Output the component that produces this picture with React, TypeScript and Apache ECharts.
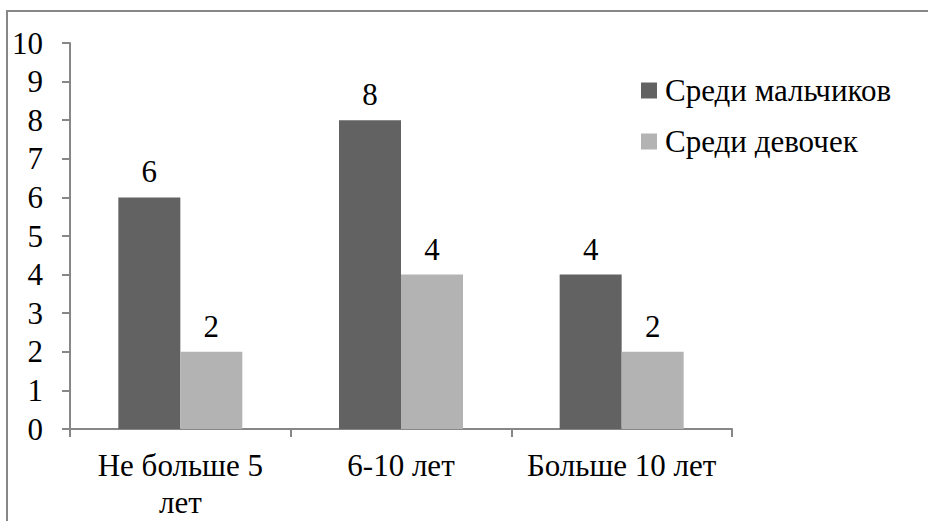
import React, { useEffect, useRef } from "react";
import * as echarts from "echarts";

const categories = ["Не больше 5\nлет", "6-10 лет", "Больше 10 лет"];
const boysName = "Среди мальчиков";
const girlsName = "Среди девочек";
const boys = [6, 8, 4];
const girls = [2, 4, 2];

const FONT = "Times New Roman";
const FS = 31;

export default function App() {
  const ref = useRef<HTMLDivElement>(null);
  useEffect(() => {
    if (!ref.current) return;
    const chart = echarts.init(ref.current, undefined, { renderer: "svg" });
    chart.setOption({
      animation: false,
      backgroundColor: "#fff",
      graphic: [
        {
          type: "polyline",
          shape: { points: [[7, 521], [7, 11], [928, 11]] },
          style: { stroke: "#878787", lineWidth: 2, fill: "none" },
          silent: true,
        },
      ],
      legend: {
        orient: "vertical",
        left: 636,
        top: 70,
        itemWidth: 16,
        itemHeight: 16,
        itemGap: 20,
        icon: "rect",
        textStyle: { fontFamily: FONT, fontSize: FS, color: "#000", padding: [0, 0, 0, 3] },
        data: [boysName, girlsName],
      },
      grid: { left: 70, right: 196, top: 43, bottom: 88 },
      xAxis: {
        type: "category",
        data: categories,
        axisLine: { lineStyle: { color: "#878787", width: 2 } },
        axisTick: { show: true, length: 8, lineStyle: { color: "#878787", width: 2 } },
        axisLabel: { fontFamily: FONT, fontSize: FS, color: "#000", margin: 18, lineHeight: 37, interval: 0 },
      },
      yAxis: {
        type: "value",
        min: 0,
        max: 10,
        interval: 1,
        splitLine: { show: false },
        axisLine: { show: true, lineStyle: { color: "#878787", width: 2 } },
        axisTick: { show: true, length: 8, lineStyle: { color: "#878787", width: 2 } },
        axisLabel: { fontFamily: FONT, fontSize: FS, color: "#000", margin: 27 },
      },
      series: [
        {
          name: boysName,
          type: "bar",
          data: boys,
          barWidth: 62,
          barGap: "0%",
          itemStyle: { color: "#626262" },
          label: { show: true, position: "top", distance: 10, fontFamily: FONT, fontSize: FS, color: "#000" },
        },
        {
          name: girlsName,
          type: "bar",
          data: girls,
          barWidth: 62,
          barGap: "0%",
          itemStyle: { color: "#b3b3b3" },
          label: { show: true, position: "top", distance: 10, fontFamily: FONT, fontSize: FS, color: "#000" },
        },
      ],
    });
    return () => chart.dispose();
  }, []);
  return <div ref={ref} style={{ width: 928, height: 521, position: "absolute", left: 0, top: 0 }} />;
}
